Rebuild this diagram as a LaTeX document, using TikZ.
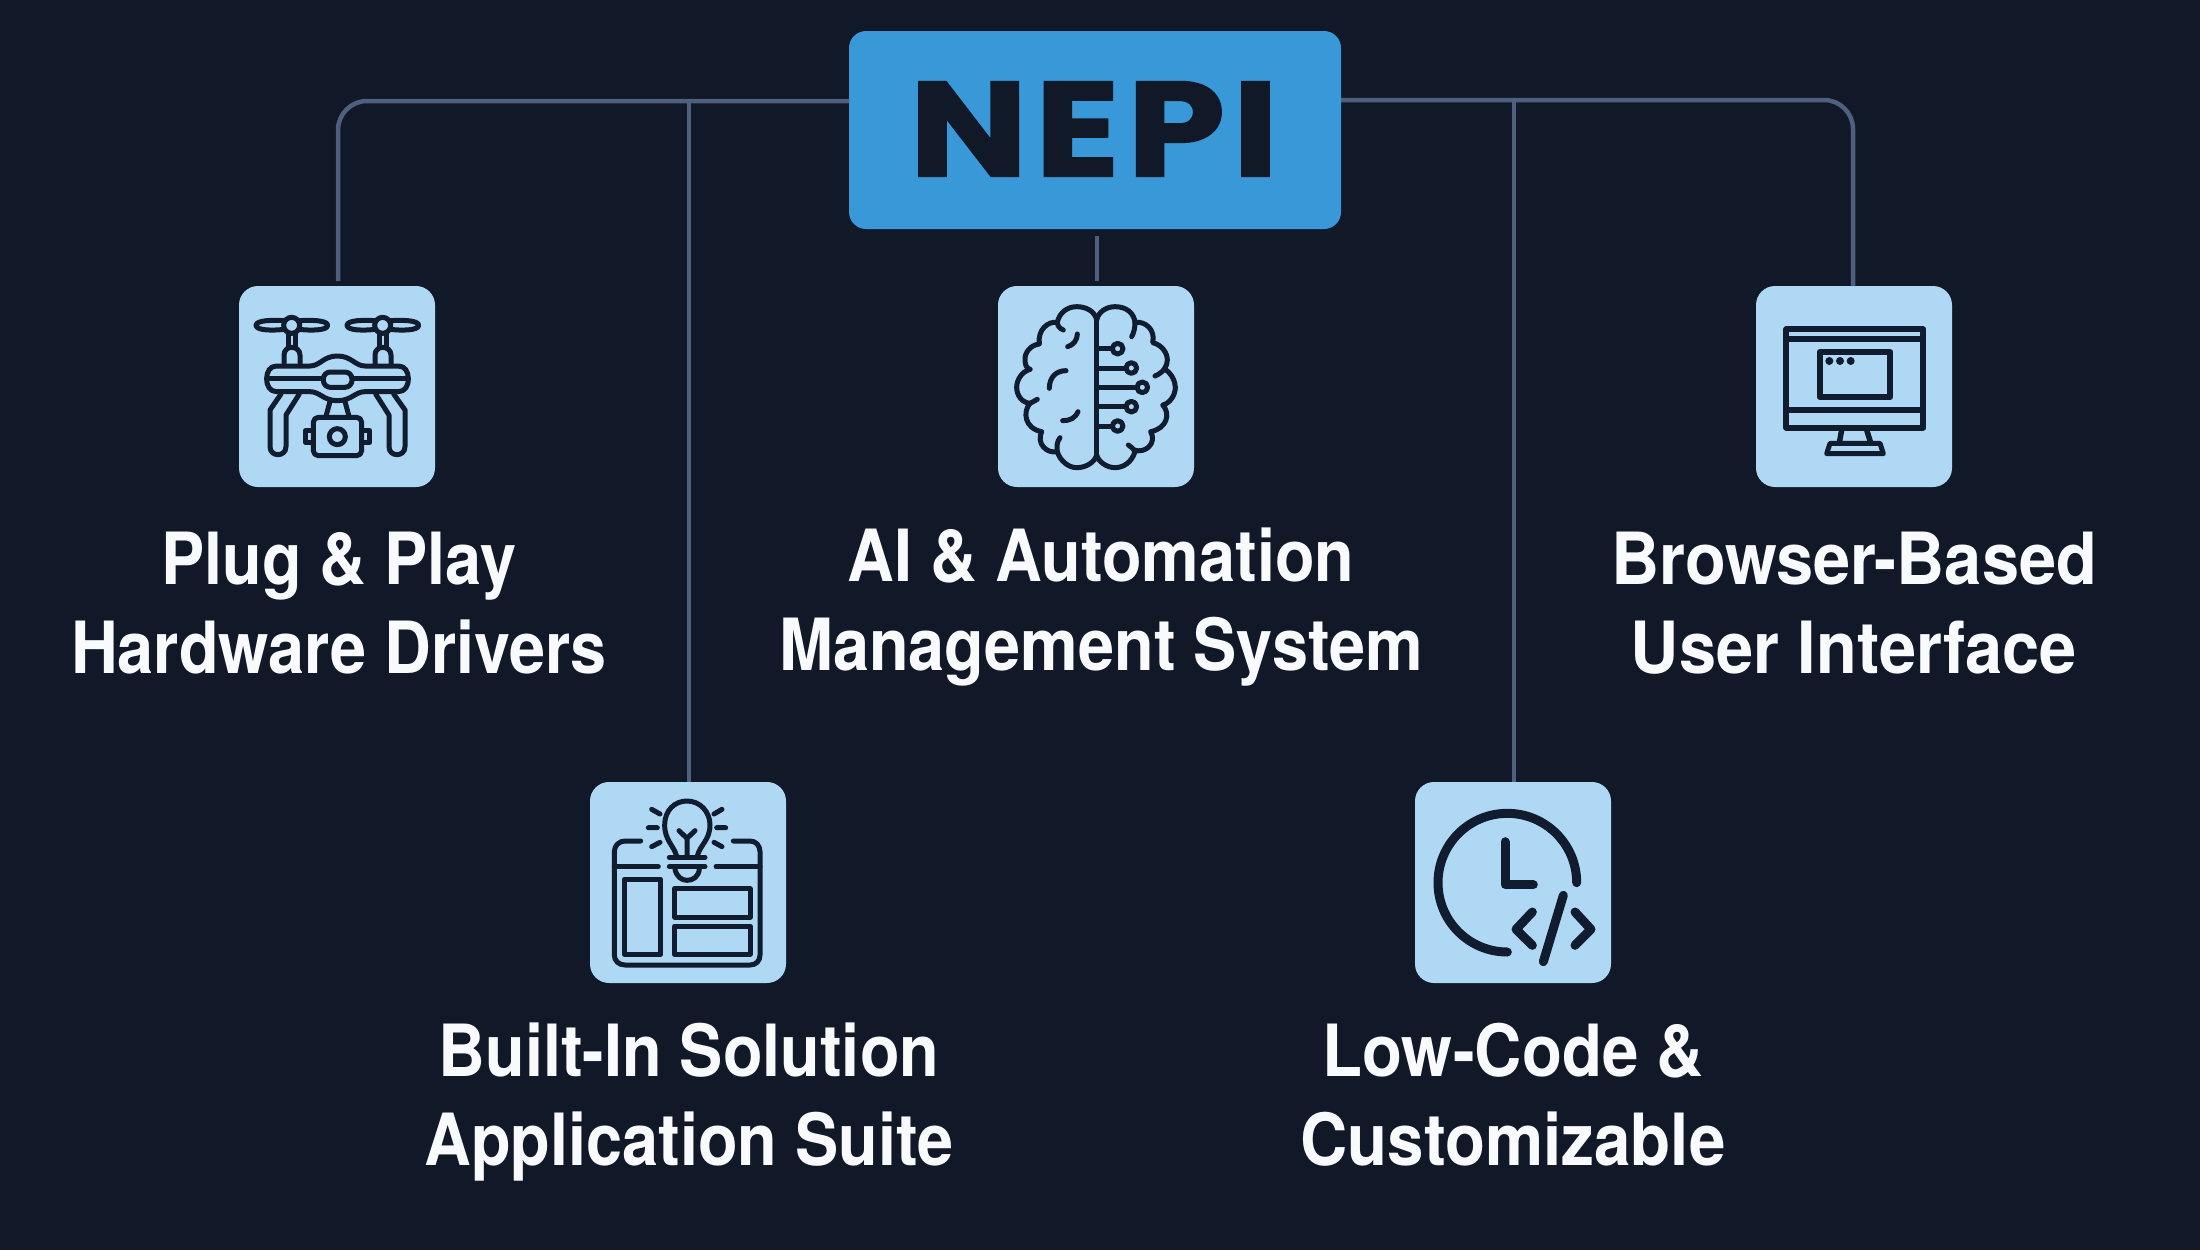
\documentclass[tikz,border=0pt]{standalone}
\usepackage{fontspec}
\setmainfont{Liberation Sans}
\newfontfamily\labelfont[FakeStretch=0.9]{TeX Gyre Heros}
\newfontfamily\titlefont[LetterSpace=5,FakeBold=1.2,FakeStretch=1.17]{Poppins Bold}
\definecolor{bgc}{HTML}{111827}
\definecolor{linec}{HTML}{4F5F7F}
\definecolor{boxc}{HTML}{AED8F4}
\definecolor{headc}{HTML}{3898D8}
\definecolor{inkc}{HTML}{111C2E}
\definecolor{labelc}{HTML}{F9FAFC}
\tikzset{
 x=1pt,y=-1pt,
 connector/.style={draw=linec,line width=4.5pt,line join=round},
 iconbox/.style={fill=boxc,rounded corners=19pt},
 icon/.style={draw=inkc,line width=5pt,line cap=round,line join=round},
 lbl/.style={text=labelc,align=center,inner sep=0pt,anchor=base,font={\labelfont\bfseries\fontsize{72}{88.5}\selectfont}},
}
\begin{document}
\begin{tikzpicture}
\fill[bgc] (0,0) rectangle (2200,1250);
\useasboundingbox (0,0) rectangle (2200,1250);
% boxes
\fill[headc,rounded corners=17pt] (849,31) rectangle (1341,229);
\node[text=bgc,inner sep=0pt,font={\titlefont\fontsize{135}{135}\selectfont}] (nepi) at (1094,129) {NEPI};
\fill[iconbox] (239,286) rectangle (435,487);
\fill[iconbox] (998,286) rectangle (1194,487);
\fill[iconbox] (1756,286) rectangle (1952,487);
\fill[iconbox] (590,782) rectangle (786,983);
\fill[iconbox] (1415,782) rectangle (1611,983);
\coordinate (hubL) at (849,101);
\coordinate (hubR) at (1341,100);
\coordinate (endA) at (338,281);
\coordinate (endB) at (689,782);
\coordinate (endC1) at (1097,236);
\coordinate (endC2) at (1097,281);
\coordinate (endD) at (1514,782);
\coordinate (endE) at (1853,286);
\coordinate (jB) at (689,101);
\coordinate (jD) at (1514,100);
\draw[connector,rounded corners=29pt] (hubL) -- (338,101) -- (endA);
\draw[connector,rounded corners=29pt] (hubR) -- (1853,100) -- (endE);
\draw[connector] (jB) -- (endB);
\draw[connector] (jD) -- (endD);
\draw[connector] (endC1) -- (endC2);
% drone
\begin{scope}[shift={(220,270)},scale=1/3]
\foreach \dx in {0,273}{
 \begin{scope}[shift={(\dx,0)}]
 \draw[icon] (192,152) .. controls (160,150) and (108,150) .. (108,166) .. controls (108,182) and (160,182) .. (192,178);
 \draw[icon] (238,152) .. controls (270,150) and (323,150) .. (323,166) .. controls (323,182) and (270,182) .. (238,178);
 \draw[icon] (215,166) circle[radius=24];
 \draw[icon] (204,192) -- (204,232) (227,192) -- (227,232);
 \draw[icon] (192,286) -- (192,255) .. controls (192,240) and (204,232) .. (215,232) .. controls (227,232) and (240,240) .. (240,255) -- (240,286);
 \end{scope}}
\draw[icon] (170,288) -- (270,288) .. controls (300,288) and (310,258) .. (352,258) .. controls (395,258) and (405,288) .. (435,288) -- (535,288) .. controls (555,288) and (565,305) .. (565,326) .. controls (565,348) and (555,365) .. (535,365) -- (435,365) .. controls (405,365) and (395,392) .. (352,392) .. controls (310,392) and (300,365) .. (270,365) -- (170,365) .. controls (150,365) and (140,348) .. (140,326) .. controls (140,305) and (150,288) .. (170,288) -- cycle;
\draw[icon] (140,326) -- (310,326) (396,326) -- (565,326);
\draw[icon,rounded corners=7pt] (310,306) rectangle (396,352);
\draw[icon] (183,372) -- (150,420) -- (150,530) .. controls (150,546) and (162,554) .. (174,554) .. controls (186,554) and (198,546) .. (198,530) -- (198,435) -- (238,372);
\draw[icon] (521,372) -- (555,420) -- (555,530) .. controls (555,546) and (543,554) .. (531,554) .. controls (519,554) and (507,546) .. (507,530) -- (507,435) -- (467,372);
\draw[icon] (330,395) -- (317,442) (375,395) -- (388,442);
\draw[icon,rounded corners=5pt] (280,442) rectangle (425,557);
\draw[icon] (352,500) circle[radius=24];
\draw[icon] (280,482) -- (257,482) -- (257,518) -- (280,518);
\draw[icon] (425,482) -- (449,482) -- (449,518) -- (425,518);
\end{scope}
% brain
\begin{scope}[shift={(980,270)},scale=1/3]
\draw[icon] (350,555) -- (350,150);
\draw[icon] (350,150) .. controls (345,125) and (320,110) .. (290,110) .. controls (262,110) and (238,128) .. (232,157);
\draw[icon] (250,180) .. controls (240,176) and (232,168) .. (232,157) .. controls (205,153) and (172,178) .. (178,222) .. controls (150,225) and (133,250) .. (135,270) .. controls (135,285) and (140,295) .. (150,298);
\draw[icon] (150,298) .. controls (125,305) and (110,330) .. (110,352) .. controls (110,375) and (125,398) .. (150,400) .. controls (155,397) and (165,392) .. (172,388);
\draw[icon] (150,400) .. controls (128,425) and (133,475) .. (185,485) .. controls (168,520) and (200,552) .. (232,545);
\draw[icon] (240,503) .. controls (230,515) and (230,532) .. (232,545) .. controls (240,572) and (265,593) .. (290,593) .. controls (320,593) and (345,575) .. (350,555);
\draw[icon] (350,150) .. controls (355,125) and (380,110) .. (405,110) .. controls (440,110) and (462,130) .. (465,157);
\draw[icon] (455,200) .. controls (462,188) and (465,172) .. (465,157) .. controls (497,153) and (527,180) .. (518,218) .. controls (547,225) and (562,250) .. (562,270) .. controls (562,288) and (550,308) .. (525,318);
\draw[icon] (555,298) .. controls (575,310) and (586,335) .. (586,352) .. controls (586,375) and (570,400) .. (548,405) .. controls (572,430) and (562,475) .. (512,485) .. controls (532,520) and (495,552) .. (462,540);
\draw[icon] (445,525) .. controls (452,530) and (460,535) .. (465,545) .. controls (455,577) and (430,593) .. (405,593) .. controls (380,593) and (355,575) .. (350,555);
\draw[icon] (263,230) .. controls (280,225) and (292,210) .. (292,192);
\draw[icon] (258,302) .. controls (230,302) and (208,320) .. (208,355);
\draw[icon] (248,452) .. controls (270,452) and (285,445) .. (294,425);
\draw[icon] (350,236) -- (397,236) (350,294) -- (438,294) (350,352) -- (471,352) (350,410) -- (438,410) (350,468) -- (397,468);
\draw[icon] (413,236) circle[radius=16] (454,294) circle[radius=16] (487,352) circle[radius=16] (454,410) circle[radius=16] (413,468) circle[radius=16];
\end{scope}
% monitor
\begin{scope}[shift={(1740,270)},scale=1/3]
\draw[icon,line width=5.8pt,line cap=butt] (139,178) rectangle (550,473);
\draw[icon,line width=5.8pt,line cap=butt] (139,208) -- (550,208) (139,419) -- (550,419);
\draw[icon,line width=5.8pt,line cap=butt] (239,246) rectangle (451,381);
\fill[inkc] (268,273) circle[radius=12] (300,273) circle[radius=12] (332,273) circle[radius=12];
\draw[icon,line cap=butt,line width=5.5pt] (305,480) -- (298,518) (380,480) -- (392,518);
\draw[icon] (270,520) -- (420,520) -- (430,551) -- (260,551) -- cycle;
\end{scope}
% bulb
\begin{scope}[shift={(570,770)},scale=1/3]
\draw[icon] (320,258) .. controls (310,225) and (284,210) .. (284,165) .. controls (284,120) and (315,93) .. (351,93) .. controls (390,93) and (420,125) .. (420,165) .. controls (420,210) and (390,225) .. (382,258);
\draw[icon] (298,262) -- (405,262) (298,290) -- (405,290);
\draw[icon] (315,298) .. controls (320,320) and (335,331) .. (351,331) .. controls (370,331) and (385,320) .. (388,298);
\draw[icon] (351,258) -- (351,205) (327,182) -- (351,205) -- (375,182);
\draw[icon] (245,118) -- (270,132) (235,173) -- (262,173) (245,230) -- (270,217) (456,118) -- (432,132) (440,173) -- (467,173) (456,230) -- (432,217);
\draw[icon] (212,213) -- (165,213) .. controls (147,213) and (133,227) .. (133,245) -- (133,555) .. controls (133,573) and (147,585) .. (165,585) -- (540,585) .. controls (558,585) and (570,573) .. (570,555) -- (570,245) .. controls (570,227) and (558,213) .. (540,213) -- (490,213);
\draw[icon] (133,290) -- (265,290) (438,290) -- (570,290);
\draw[icon] (163,327) rectangle (272,553);
\draw[icon] (314,356) rectangle (540,441);
\draw[icon] (314,468) rectangle (540,553);
\end{scope}
% clock
\begin{scope}[shift={(1400,770)},scale=1/3]
\draw[icon,line width=9pt] (530,338) .. controls (530,223) and (437,130) .. (322,130) .. controls (207,130) and (114,223) .. (114,338) .. controls (114,453) and (207,546) .. (322,546);
\draw[icon,line width=9pt] (315,215) -- (315,344) -- (400,344);
\draw[icon,line width=9pt] (397,426) -- (348,478) -- (397,526);
\draw[icon,line width=9pt] (525,426) -- (573,478) -- (525,526);
\draw[icon,line width=9pt] (490,376) -- (430,575);
\end{scope}
% labels
\node[lbl] (l1) at (339,673) {Plug \& Play\\Hardware Drivers};
\node[lbl] (l2) at (1101,670) {AI \& Automation\\Management System};
\node[lbl,xscale=1.03] (l3) at (1854,673) {Browser-Based\\User Interface};
\node[lbl] (l4) at (689,1165) {Built-In Solution\\Application Suite};
\node[lbl,xscale=1.01] (l5) at (1513,1165) {Low-Code \&\\Customizable};
\end{tikzpicture}
\end{document}
